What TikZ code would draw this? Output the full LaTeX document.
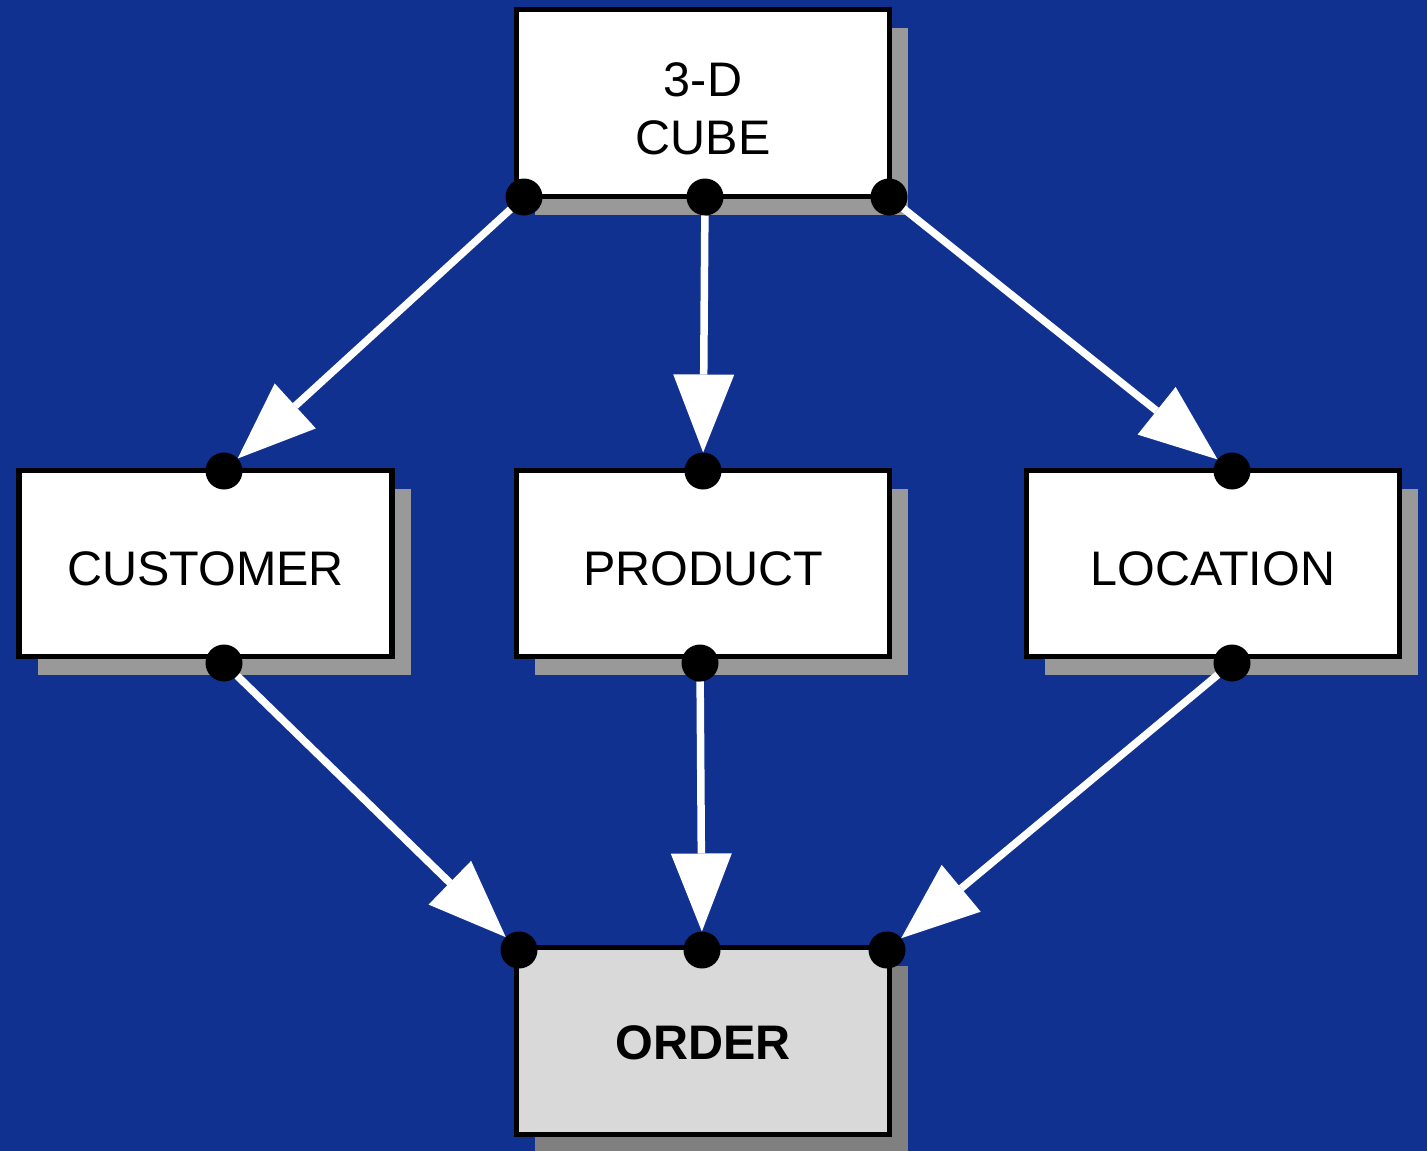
\documentclass[tikz,border=0pt]{standalone}
\usepackage{fontspec}
\setmainfont{Liberation Sans}
\usetikzlibrary{arrows.meta,shadows}
\definecolor{bgblue}{HTML}{10318F}
\definecolor{shadowgray}{HTML}{999999}
\definecolor{darkshadow}{HTML}{808080}
\definecolor{orderfill}{HTML}{D9D9D9}
\tikzset{
  box/.style={draw=black, line width=5.5pt, fill=white, rectangle,
    minimum width=373pt, minimum height=186pt, inner sep=0pt,
    font=\fontsize{48.5}{58}\selectfont,
    drop shadow={shadow xshift=18.5pt, shadow yshift=-18pt, fill=shadowgray, opacity=1}},
  onebox/.style={box, text height=43pt, text depth=0pt},
  orderbox/.style={box, fill=orderfill, text height=37pt, text depth=0pt,
    font=\fontsize{48.5}{58}\selectfont\bfseries,
    drop shadow={shadow xshift=18.5pt, shadow yshift=-18pt, fill=darkshadow, opacity=1}},
  boxtext/.style={font=\fontsize{48.5}{58}\selectfont, align=center, inner sep=0pt},
  dot/.style={circle, fill=black, minimum size=37pt, inner sep=0pt, outer sep=0pt},
  flow/.style={draw=white, line width=7.5pt,
    -{Triangle[length=78pt, width=61pt, line width=0pt]}}
}
\begin{document}
\begin{tikzpicture}[x=1pt, y=-1pt]
\fill[bgblue] (0,0) rectangle (1427,1151);
\useasboundingbox (0,0) rectangle (1427,1151);

\node[box, minimum height=187pt] (cube) at (703,103) {};
\node[boxtext] (cubetext) at (703,109) {3-D\\CUBE};
\node[onebox] (cust) at (205.5,563.5) {CUSTOMER};
\node[onebox] (prod) at (703,563.5) {PRODUCT};
\node[onebox] (loc) at (1213,563.5) {LOCATION};
\node[orderbox, minimum height=187pt] (ord) at (703,1041) {ORDER};

\node[dot] (c1) at (524,197) {};
\node[dot] (c2) at (705,197) {};
\node[dot] (c3) at (889,197) {};
\node[dot] (cut) at (224,471) {};
\node[dot] (cub) at (224,663) {};
\node[dot] (prt) at (703,471) {};
\node[dot] (prb) at (700,663) {};
\node[dot] (lot) at (1232,471) {};
\node[dot] (lob) at (1232,663) {};
\node[dot] (o1) at (519,950) {};
\node[dot] (o2) at (702,950) {};
\node[dot] (o3) at (887,950) {};

\draw[flow] (c1) -- (cut);
\draw[flow] (c2) -- (prt);
\draw[flow] (c3) -- (lot);
\draw[flow] (cub) -- (o1);
\draw[flow] (prb) -- (o2);
\draw[flow] (lob) -- (o3);
\end{tikzpicture}
\end{document}
